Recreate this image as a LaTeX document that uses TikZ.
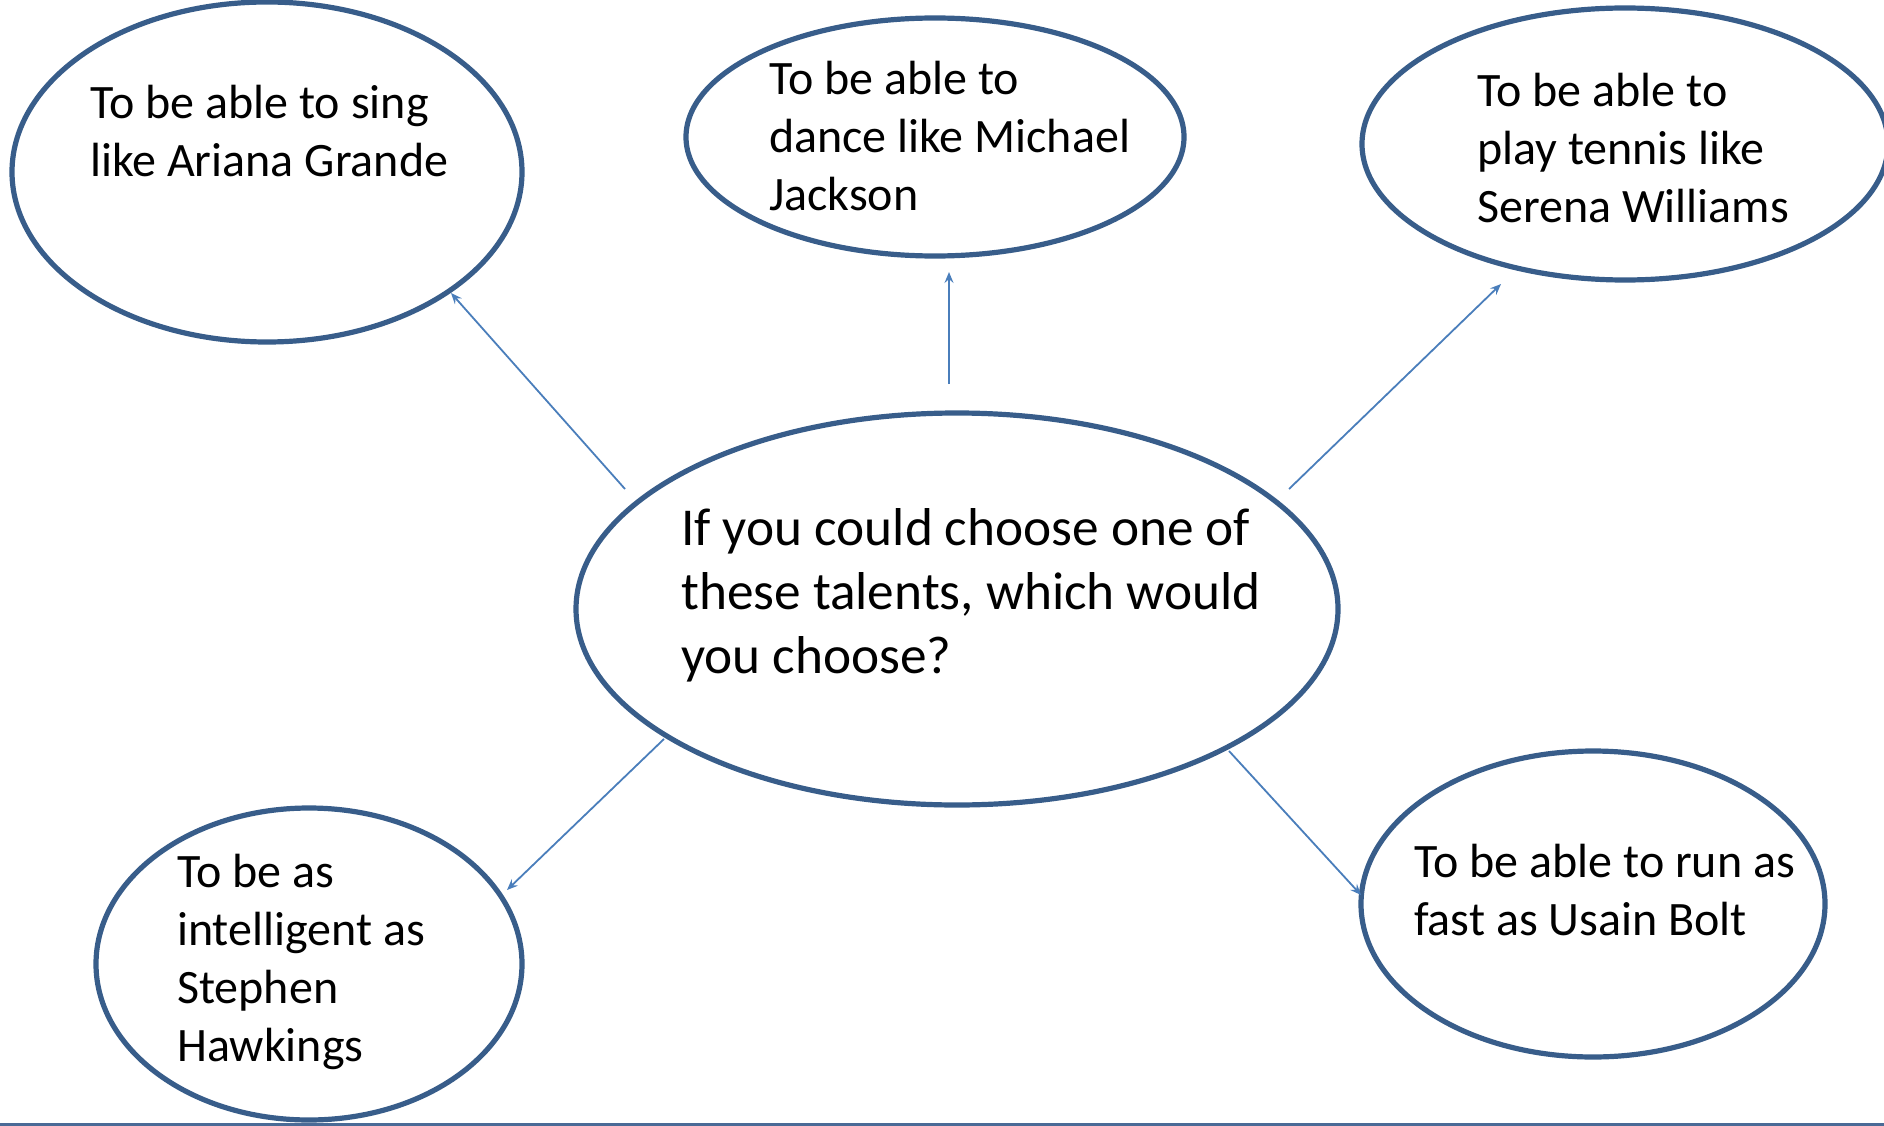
\documentclass[tikz,border=0pt]{standalone}
\usepackage{fontspec}
\setmainfont{Carlito}
\usetikzlibrary{arrows.meta,shapes.geometric}
\definecolor{ellc}{HTML}{385D8A}
\definecolor{conc}{HTML}{4A7EBB}
\definecolor{linec}{HTML}{4A6A96}
\tikzset{
  ell/.style={ellipse, draw=ellc, line width=5.2pt, inner sep=0pt, outer sep=0pt},
  txt/.style={anchor=north west, align=left, inner sep=0pt, font=\fontsize{48}{58}\selectfont},
  bigtxt/.style={anchor=north west, align=left, inner sep=0pt, font=\fontsize{53.3}{64}\selectfont},
  conn/.style={draw=conc, line width=1.8pt, -{Stealth[length=11pt,width=9pt,inset=4pt]}}
}
\begin{document}
\begin{tikzpicture}[x=1pt,y=-1pt]
\useasboundingbox (0,0) rectangle (1884,1126);
% ellipses
\node[ell, minimum width=510, minimum height=340] (e1) at (267,172) {};
\node[ell, minimum width=498, minimum height=238] (e2) at (935,137) {};
\node[ell, minimum width=526, minimum height=272] (e3) at (1625,144) {};
\node[ell, minimum width=762, minimum height=392] (c) at (957,609) {};
\node[ell, minimum width=426, minimum height=312] (e4) at (309,964) {};
\node[ell, minimum width=464, minimum height=306] (e5) at (1593,904) {};
% texts
\node[txt] (t1) at (90,85) {To be able to sing\\like Ariana Grande};
\node[txt] (t2) at (769,61) {To be able to\\dance like Michael\\Jackson};
\node[txt] (t3) at (1477,73) {To be able to\\play tennis like\\Serena Williams};
\node[bigtxt] (tc) at (681,508) {If you could choose one of\\these talents, which would\\you choose?};
\node[txt] (t4) at (177,854) {To be as\\intelligent as\\Stephen\\Hawkings};
\node[txt] (t5) at (1414,844) {To be able to run as\\fast as Usain Bolt};
% connector end points
\coordinate (s1) at (625,489);  \coordinate (d1) at (451,293);
\coordinate (s2) at (949,384);  \coordinate (d2) at (949,272);
\coordinate (s3) at (1289,489); \coordinate (d3) at (1501,284);
\coordinate (s4) at (664,739);  \coordinate (d4) at (507,890);
\coordinate (s5) at (1229,751); \coordinate (d5) at (1361,895);
\draw[conn] (s1) -- (d1);
\draw[conn] (s2) -- (d2);
\draw[conn] (s3) -- (d3);
\draw[conn] (s4) -- (d4);
\draw[conn] (s5) -- (d5);
% bottom rule
\coordinate (bl) at (0,1124);
\coordinate (br) at (1884,1124);
\draw[linec, line width=3pt] (bl) -- (br);
\end{tikzpicture}
\end{document}
